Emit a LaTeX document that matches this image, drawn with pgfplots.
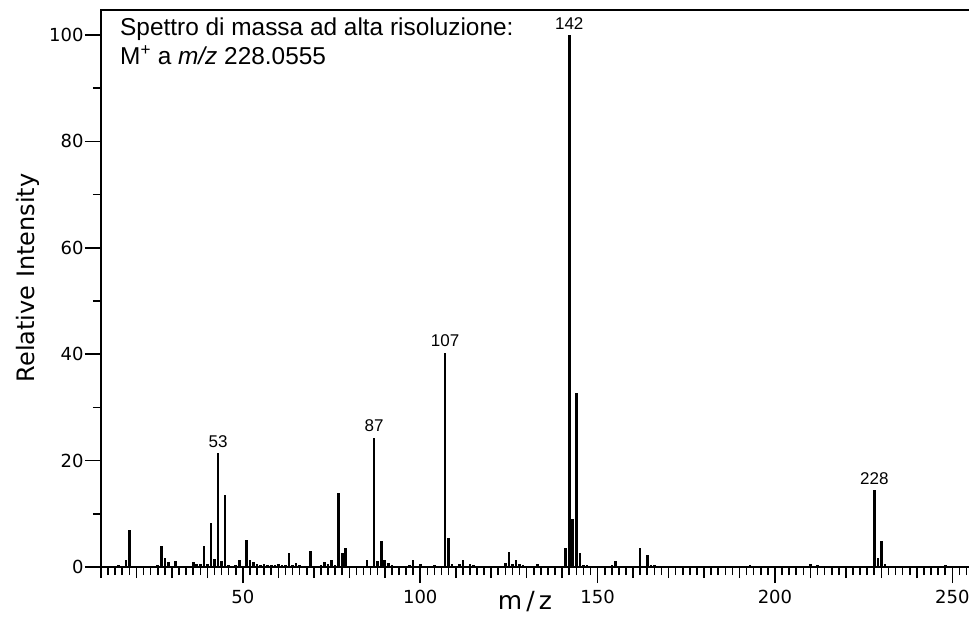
\documentclass[border=0pt]{standalone}
\usepackage{pgfplots}
\pgfplotsset{compat=1.18}
\usepackage{fontspec}
\setmainfont{Liberation Sans}
\newfontfamily\dejavu{DejaVu Sans}
\begin{document}
\begin{tikzpicture}
\begin{axis}[
  at={(0,0)}, anchor=south west,
  scale only axis, width=868pt, height=557pt,
  xmin=10, xmax=254.7, ymin=0, ymax=104.7,
  axis x line*=bottom, axis y line*=left,
  axis line style={line width=2.6pt, -},
  xtick={50,100,...,250},
  minor xtick={10,12,...,254},
  extra x ticks={10,20,...,250}, extra x tick labels={},
  extra x tick style={major tick length=11pt},
  ytick={0,20,...,100}, minor ytick={10,30,...,90},
  tick align=outside,
  major tick length=16pt, minor tick length=8pt,
  tick style={line width=1.6pt, black},
  xticklabel style={font=\dejavu\fontsize{18}{18}\selectfont, yshift=-4pt},
  yticklabel style={font=\dejavu\fontsize{18}{18}\selectfont, xshift=2pt},
  /pgf/number format/assume math mode=true,
  clip=false,
]
\addplot[ycomb, line width=2.6pt, black, mark=none] coordinates {
(15,0.3) (17,1.4) (18,7.0) (26,0.4) (27,3.9) (28,1.7) (29,0.9) (31,1.2)
(36,0.9) (37,0.5) (38,0.6) (39,3.9) (40,0.6) (41,8.3) (42,1.5) (43,21.4)
(44,1.2) (45,13.6) (46,0.4) (48,0.4) (49,1.4) (51,5.0) (52,1.4) (53,0.9)
(54,0.5) (55,0.4) (56,0.5) (57,0.4) (58,0.4) (59,0.4) (60,0.5) (61,0.3)
(62,0.4) (63,2.7) (64,0.4) (65,0.8) (66,0.4) (67,0.2) (68,0.2) (69,3.0)
(70,0.2) (71,0.2) (72,0.4) (73,1.0) (74,0.5) (75,1.3) (76,0.3) (77,13.9)
(78,2.7) (79,3.5) (80,0.2) (81,0.2) (83,0.2) (85,1.25) (86,0.2) (87,24.3)
(88,1.1) (89,4.8) (90,1.25) (91,0.75) (92,0.4) (95,0.2) (96,0.2) (97,0.4)
(98,1.25) (99,0.2) (100,0.5) (102,0.2) (104,0.4) (105,0.2) (107,40.3) (108,5.5)
(109,0.5) (110,0.2) (111,0.5) (112,1.25) (113,0.2) (114,0.5) (115,0.4) (116,0.2)
(118,0.2) (122,0.2) (124,0.75) (125,2.9) (126,0.6) (127,1.25) (128,0.6) (129,0.3)
(130,0.2) (131,0.2) (133,0.6) (137,0.2) (139,0.2) (140,0.2) (141,3.6) (142,100)
(143,9.0) (144,32.7) (145,2.6) (146,0.3) (147,0.3) (153,0.2) (154,0.4) (155,1.1)
(156,0.2) (157,0.2) (162,3.6) (163,0.2) (164,2.2) (165,0.4) (166,0.3) (167,0.2)
(168,0.2) (193,0.3) (210,0.6) (212,0.3) (228,14.4) (229,1.75) (230,4.8) (231,0.6)
(248,0.3)
};
\draw[line width=2.6pt, line cap=rect] (rel axis cs:0,1) -- (rel axis cs:1,1);
\begin{scope}[every node/.style={font=\fontsize{17}{17}\selectfont, anchor=base, inner sep=0pt, yshift=6pt}]
\node at (axis cs:43,21.4) {53};
\node at (axis cs:87,24.3) {87};
\node at (axis cs:107,40.3) {107};
\node at (axis cs:142,100) {142};
\node at (axis cs:228,14.4) {228};
\end{scope}
\node[anchor=base west, inner sep=0pt, font=\fontsize{24.4}{24}\selectfont, xshift=19pt, yshift=-26pt] at (rel axis cs:0,1) {Spettro di massa ad alta risoluzione:};
\node[anchor=base west, inner sep=0pt, font=\fontsize{24.4}{24}\selectfont, xshift=19pt, yshift=-55pt] at (rel axis cs:0,1) {M\textsuperscript{+} a \textit{m/z} 228.0555};
\path (rel axis cs:0,0.519) ++(-73pt,0pt) node[rotate=90, font=\dejavu\fontsize{24}{24}\selectfont] {Relative Intensity};
\path (axis cs:129.5,0) ++(0pt,-35pt) node[font=\dejavu\fontsize{25}{25}\selectfont] {m\,/\,z};
\end{axis}
\pgfresetboundingbox
\path[use as bounding box] (-101pt,-52pt) rectangle (868pt,567pt);
\end{tikzpicture}
\end{document}
